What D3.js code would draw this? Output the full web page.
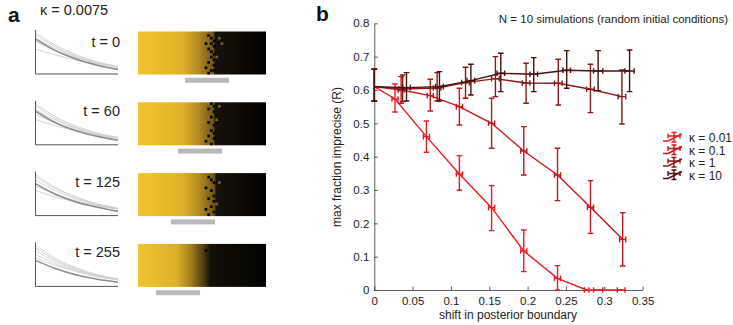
<!DOCTYPE html>
<html><head><meta charset="utf-8">
<script src="https://cdn.jsdelivr.net/npm/d3@7"></script>
<style>body{margin:0;background:#fff}svg{display:block;font-family:"Liberation Sans",Arial,Helvetica,sans-serif}</style>
</head><body>
<svg id="c" width="733" height="325"></svg>
<script>
// ---------- Panel b data ----------
const seriesNames = ["κ = 0.01", "κ = 0.1", "κ = 1", "κ = 10"];
const seriesColors = ["#ec1c24", "#c4161c", "#8a1a1a", "#4a1010"];

const k001_x  = [0, 0.027, 0.068, 0.111, 0.153, 0.195, 0.239, 0.277, 0.292, 0.322];
const k001_y  = [0.61, 0.573, 0.46, 0.348, 0.247, 0.117, 0.035, 0, 0, 0];
const k001_lo = [0.567, 0.534, 0.413, 0.299, 0.178, 0.055, 0, 0, 0, 0];
const k001_hi = [0.662, 0.618, 0.507, 0.403, 0.313, 0.18, 0.073, 0, 0, 0];
const k001_xe = [0, 0.004, 0.004, 0.004, 0.004, 0.004, 0.004, 0.003, 0.006, 0.005];

const k01_x  = [0, 0.035, 0.073, 0.111, 0.153, 0.195, 0.239, 0.282, 0.324];
const k01_y  = [0.61, 0.60, 0.583, 0.55, 0.50, 0.417, 0.345, 0.248, 0.152];
const k01_lo = [0.567, 0.56, 0.537, 0.495, 0.425, 0.345, 0.268, 0.17, 0.072];
const k01_hi = [0.662, 0.64, 0.632, 0.605, 0.575, 0.49, 0.425, 0.328, 0.232];
const k01_xe = [0, 0.004, 0.004, 0.004, 0.004, 0.004, 0.004, 0.004, 0.004];

const k1_x  = [0, 0.037, 0.082, 0.119, 0.158, 0.198, 0.240, 0.282, 0.323];
const k1_y  = [0.61, 0.603, 0.606, 0.622, 0.634, 0.621, 0.62, 0.602, 0.58];
const k1_lo = [0.567, 0.565, 0.567, 0.575, 0.58, 0.56, 0.555, 0.532, 0.498];
const k1_hi = [0.662, 0.645, 0.652, 0.668, 0.70, 0.68, 0.692, 0.677, 0.66];
const k1_xe = [0, 0.005, 0.005, 0.005, 0.005, 0.005, 0.005, 0.005, 0.005];

const k10_x  = [0, 0.042, 0.085, 0.126, 0.165, 0.208, 0.251, 0.292, 0.333];
const k10_y  = [0.61, 0.607, 0.61, 0.628, 0.65, 0.647, 0.659, 0.657, 0.657];
const k10_lo = [0.567, 0.567, 0.567, 0.585, 0.595, 0.595, 0.605, 0.598, 0.595];
const k10_hi = [0.662, 0.652, 0.655, 0.677, 0.71, 0.697, 0.718, 0.718, 0.72];
const k10_xe = [0, 0.005, 0.005, 0.005, 0.005, 0.005, 0.005, 0.006, 0.006];

const xTicks = [0, 0.05, 0.1, 0.15, 0.2, 0.25, 0.3, 0.35];
const yTicks = [0, 0.1, 0.2, 0.3, 0.4, 0.5, 0.6, 0.7, 0.8];
const titleB = "N = 10 simulations (random initial conditions)";
const xLabel = "shift in posterior boundary";
const yLabel = "max fraction imprecise (R)";

// ---------- Panel a data ----------
const kappaA = "κ = 0.0075";
const timeLabels = ["t = 0", "t = 60", "t = 125", "t = 255"];
const boundaryFrac = [0.603, 0.603, 0.611, 0.547];     // black/yellow boundary within each strip
const barStartFrac = [0.367, 0.313, 0.258, 0.141];     // grey bar start within strip
const barWidthFrac = [0.344, 0.344, 0.344, 0.344];
// curves: normalized heights at x = 0, .25, .5, .75, 1
const curveRows = [
  {dark:[0.83,0.55,0.35,0.21,0.11], light:[[0.98,0.68,0.45,0.29,0.18],[0.93,0.64,0.42,0.27,0.17],[0.86,0.6,0.4,0.26,0.16],[0.77,0.55,0.38,0.25,0.16],[0.59,0.45,0.33,0.23,0.17]]},
  {dark:[0.80,0.52,0.33,0.2,0.11], light:[[0.98,0.66,0.44,0.28,0.18],[0.92,0.62,0.41,0.26,0.16],[0.84,0.58,0.39,0.25,0.16],[0.72,0.52,0.36,0.24,0.16],[0.6,0.45,0.33,0.23,0.17]]},
  {dark:[0.76,0.5,0.32,0.2,0.1], light:[[0.98,0.66,0.44,0.28,0.18],[0.93,0.63,0.42,0.27,0.17],[0.85,0.58,0.39,0.25,0.16],[0.7,0.5,0.35,0.24,0.16],[0.6,0.44,0.32,0.22,0.16]]},
  {dark:[0.62,0.42,0.27,0.17,0.1], light:[[0.98,0.66,0.44,0.28,0.18],[0.92,0.62,0.41,0.26,0.17],[0.85,0.58,0.39,0.25,0.16],[0.76,0.53,0.37,0.24,0.16],[0.68,0.49,0.35,0.23,0.16]]}
];
// scattered black cells [col,row] in a 48x16 grid
const dots = [
  [[26,1],[27,2],[28,3],[25,4],[27,4],[28,5],[26,6],[27,7],[28,8],[27,9],[28,10],[26,11],[28,12],[25,13],[27,14],[28,14],[26,15]],
  [[27,0],[28,1],[26,2],[28,3],[27,5],[26,7],[28,8],[27,10],[28,11],[26,12],[28,13],[25,14],[27,15]],
  [[26,1],[27,2],[28,3],[25,5],[27,6],[28,8],[26,9],[28,10],[27,12],[25,13],[28,14],[26,15]],
  [[25,2]]
];
const goldDots = [
  [[30,2],[31,4],[29,9]],
  [[30,1],[29,6]],
  [[30,3],[29,11]],
  []
];

const svg = d3.select("#c");
const txt = "#222";

// ================= Panel a =================
svg.append("text").attr("x", 8).attr("y", 22).attr("font-size", 21).attr("font-weight", "bold").attr("fill", "#111").text("a");
svg.append("text").attr("x", 40).attr("y", 15).attr("font-size", 14.5).attr("fill", txt).text(kappaA);

const defs = svg.append("defs");
const stripX = 138, stripW = 128, stripH = 43, rowTop0 = 31.5, rowStep = 70.8;
const nCols = 48, nRows = 16;

timeLabels.forEach((lab, i) => {
  const top = rowTop0 + i * rowStep;
  const b = boundaryFrac[i];
  const g = defs.append("linearGradient").attr("id", "grad" + i).attr("x1", 0).attr("x2", 1).attr("y1", 0).attr("y2", 0);
  const smooth = i === 3;
  const stops = smooth
    ? [[0,"#f3c42f"],[0.3,"#deb02a"],[b-0.14,"#a8821f"],[b-0.03,"#4a3912"],[b+0.02,"#130f07"],[1,"#020201"]]
    : [[0,"#f3c42f"],[0.35,"#e0b02a"],[b-0.14,"#b68e23"],[b-0.015,"#6e551a"],[b,"#17120a"],[1,"#020201"]];
  stops.forEach(s => g.append("stop").attr("offset", s[0]).attr("stop-color", s[1]));

  svg.append("rect").attr("x", stripX).attr("y", top).attr("width", stripW).attr("height", stripH).attr("fill", `url(#grad${i})`);
  const cx = d3.scaleLinear([0, nCols], [stripX, stripX + stripW]);
  const cy = d3.scaleLinear([0, nRows], [top, top + stripH]);
  svg.selectAll(null).data(dots[i]).enter().append("rect")
    .attr("x", d => cx(d[0])).attr("y", d => cy(d[1]))
    .attr("width", cx(1) - cx(0)).attr("height", cy(1) - cy(0)).attr("fill", "#0a0805");
  svg.selectAll(null).data(goldDots[i]).enter().append("rect")
    .attr("x", d => cx(d[0])).attr("y", d => cy(d[1]))
    .attr("width", cx(1) - cx(0)).attr("height", cy(1) - cy(0)).attr("fill", "#7a5d1c");

  // grey bar
  svg.append("rect").attr("x", stripX + barStartFrac[i] * stripW).attr("y", top + stripH + 3.3)
    .attr("width", barWidthFrac[i] * stripW).attr("height", 5).attr("fill", "#b9b9b9");

  // small curve plot
  const px = d3.scaleLinear([0, 1], [35.5, 118]);
  const py = d3.scaleLinear([0, 1], [top + stripH - 0.5, top + 0.5]);
  const line = d3.line().x((d, j) => px(j / 4)).y(d => py(d)).curve(d3.curveMonotoneX);
  curveRows[i].light.forEach(c => svg.append("path").attr("d", line(c)).attr("fill", "none").attr("stroke", "#cfcfcf").attr("stroke-width", 0.9));
  svg.append("path").attr("d", line(curveRows[i].dark)).attr("fill", "none").attr("stroke", "#8c8c8c").attr("stroke-width", 1.6);
  svg.append("path").attr("d", `M${px(0)},${top - 1.5}V${py(0)}H${px(1)}`).attr("fill", "none").attr("stroke", "#555").attr("stroke-width", 1);

  svg.append("text").attr("x", 120).attr("y", top + (i === 0 ? 15 : 13.5)).attr("text-anchor", "end")
    .attr("font-size", 14.5).attr("fill", txt).text(lab);
});

// ================= Panel b =================
svg.append("text").attr("x", 316).attr("y", 21).attr("font-size", 21).attr("font-weight", "bold").attr("fill", "#111").text("b");

const x = d3.scaleLinear([0, 0.35], [374.3, 642.6]);
const y = d3.scaleLinear([0, 0.8], [290, 23.3]);
const fmt = d => String(+d.toFixed(2));

const ax = svg.append("g").attr("transform", "translate(0,290)")
  .call(d3.axisBottom(x).tickValues(xTicks).tickFormat(fmt).tickSize(-3.5).tickSizeOuter(0).tickPadding(7));
const ay = svg.append("g").attr("transform", "translate(374.3,0)")
  .call(d3.axisLeft(y).tickValues(yTicks).tickFormat(fmt).tickSize(-3.5).tickSizeOuter(0).tickPadding(5));
[ax, ay].forEach(a => {
  a.selectAll("path,line").attr("stroke", "#333").attr("stroke-width", 0.8);
  a.selectAll("text").attr("font-size", 11.5).attr("fill", txt).attr("font-family", '"Liberation Sans",Arial,sans-serif');
});

svg.append("text").attr("x", 508).attr("y", 319).attr("text-anchor", "middle").attr("font-size", 12).attr("fill", txt).text(xLabel);
svg.append("text").attr("transform", "translate(341,157) rotate(-90)").attr("text-anchor", "middle").attr("font-size", 12).attr("fill", txt).text(yLabel);
svg.append("text").attr("x", 728).attr("y", 23).attr("text-anchor", "end").attr("font-size", 11.5).attr("fill", txt).text(titleB);

const series = [
  [k001_x, k001_y, k001_lo, k001_hi, k001_xe],
  [k01_x, k01_y, k01_lo, k01_hi, k01_xe],
  [k1_x, k1_y, k1_lo, k1_hi, k1_xe],
  [k10_x, k10_y, k10_lo, k10_hi, k10_xe]
];
const cap = 2.8;
// draw darkest last? reference: κ=10 on top
series.forEach((s, si) => {
  const col = seriesColors[si];
  const pts = s[0].map((xv, j) => ({x: xv, y: s[1][j], lo: s[2][j], hi: s[3][j], xe: s[4][j]}));
  const g = svg.append("g").attr("stroke", col).attr("fill", "none").attr("stroke-width", 1.4);
  g.append("path").attr("d", d3.line().x(d => x(d.x)).y(d => y(d.y))(pts));
  pts.forEach(d => {
    const X = x(d.x), Y = y(d.y), T = y(d.hi), B = y(d.lo);
    if (d.hi > d.lo) {
      g.append("path").attr("d", `M${X},${T}V${B}M${X-cap},${T}H${X+cap}M${X-cap},${B}H${X+cap}`);
    }
    if (d.xe > 0) {
      const L = x(d.x - d.xe), R = x(d.x + d.xe);
      g.append("path").attr("d", `M${L},${Y}H${R}M${L},${Y-cap}V${Y+cap}M${R},${Y-cap}V${Y+cap}`);
    }
  });
});

// legend
const legY = [137.5, 150, 162.5, 175];
seriesNames.forEach((n, i) => {
  const y0 = legY[i], col = seriesColors[i];
  const g = svg.append("g").attr("stroke", col).attr("fill", "none").attr("stroke-width", 1.4);
  g.append("path").attr("d", `M663,${y0+3.5}H668L682,${y0-3.5}`);
  g.append("path").attr("d", `M674,${y0-5}V${y0+4.5}M671.5,${y0-5}H676.5M671.5,${y0+4.5}H676.5`);
  g.append("path").attr("d", `M668,${y0-1.5}H680M668,${y0-4}V${y0+1}M680,${y0-4}V${y0+1}`);
  svg.append("text").attr("x", 689).attr("y", y0 + 4.5).attr("font-size", 12).attr("fill", txt).text(n);
});
</script>
</body></html>
